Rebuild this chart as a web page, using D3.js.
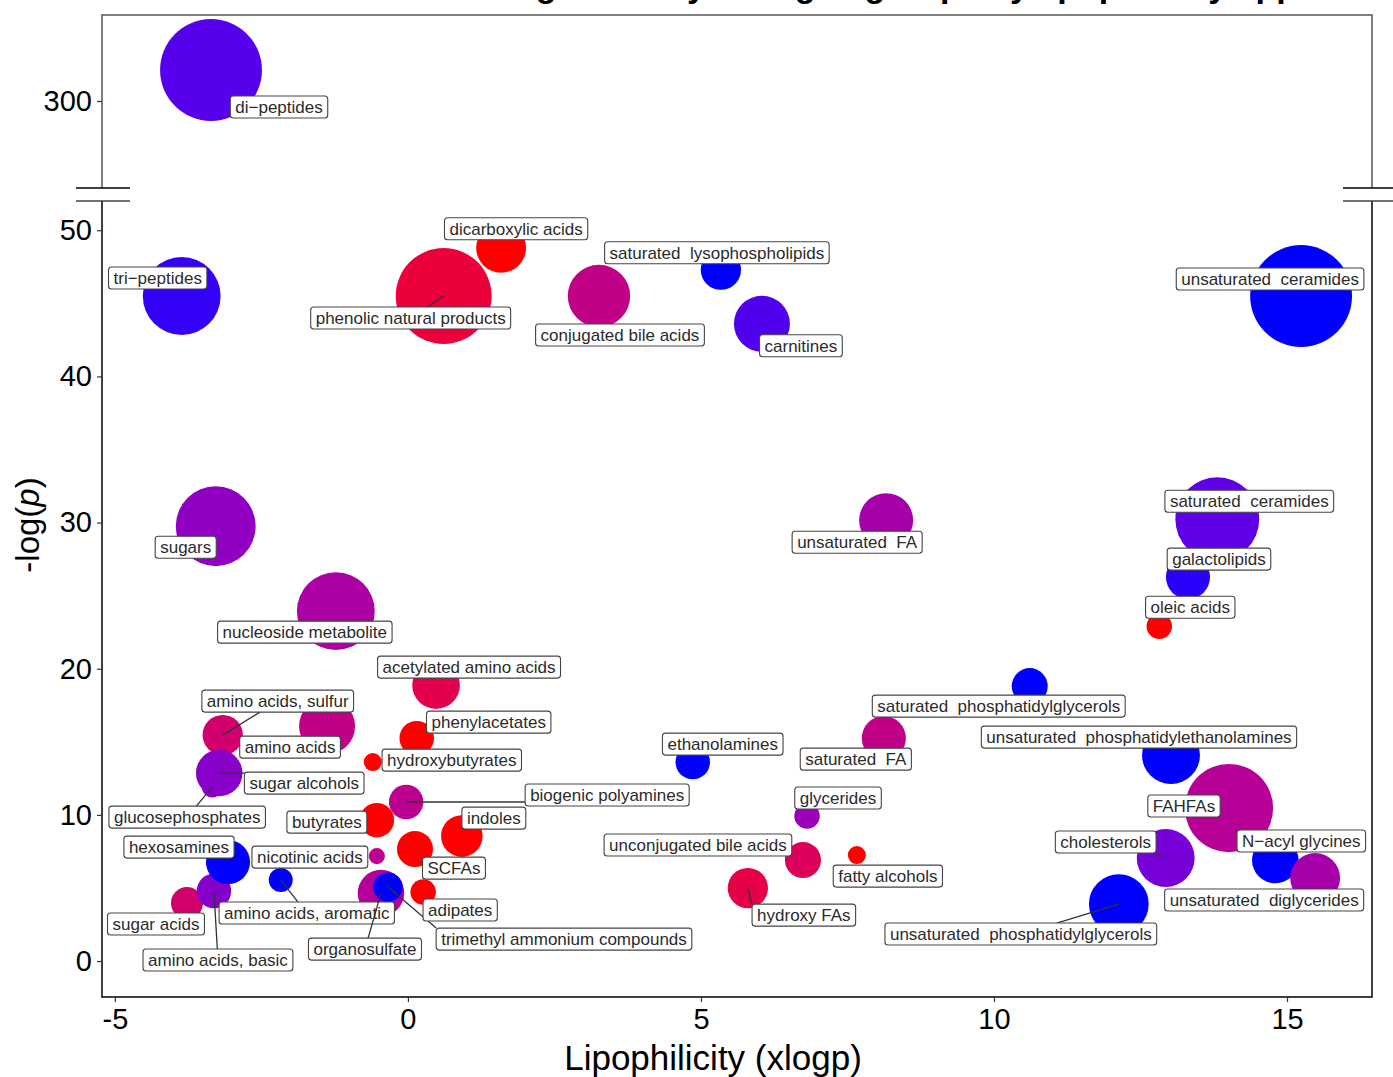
<!DOCTYPE html>
<html>
<head>
<meta charset="utf-8">
<script src="https://cdn.jsdelivr.net/npm/d3@7"></script>
<style>
  body { margin: 0; background: #fff; }
  svg { font-family: "Liberation Sans", Arial, sans-serif; }
  .lbl text { white-space: pre; }
</style>
</head>
<body>
<div id="chart"></div>
<script>
// cluster names (drawing order matters for overlaps)
const clusters = [
  "di−peptides", "tri−peptides", "dicarboxylic acids", "phenolic natural products",
  "conjugated bile acids", "saturated  lysophospholipids", "carnitines", "unsaturated  ceramides",
  "sugars", "nucleoside metabolite", "unsaturated  FA", "saturated  ceramides",
  "galactolipids", "oleic acids", "acetylated amino acids", "saturated  phosphatidylglycerols",
  "amino acids, sulfur", "amino acids", "phenylacetates", "hydroxybutyrates",
  "ethanolamines", "saturated  FA", "unsaturated  phosphatidylethanolamines", "glucosephosphates",
  "sugar alcohols", "biogenic polyamines", "FAHFAs", "glycerides",
  "butyrates", "indoles", "unconjugated bile acids", "fatty alcohols",
  "SCFAs", "nicotinic acids", "cholesterols", "N−acyl glycines",
  "sugar acids", "amino acids, basic", "hexosamines", "amino acids, aromatic",
  "hydroxy FAs", "unsaturated  diglycerides", "unsaturated  phosphatidylglycerols", "organosulfate",
  "trimethyl ammonium compounds", "adipates"
]
// lipophilicity (xlogp)
const xlogp = [
  -3.36, -3.86, 1.59, 0.61,
  3.26, 5.34, 6.04, 15.24,
  -3.28, -1.23, 8.16, 13.81,
  13.31, 12.82, 0.48, 10.61,
  -3.16, -1.38, 0.15, -0.60,
  4.86, 8.12, 13.02, -3.34,
  -3.22, -0.03, 14.01, 6.81,
  -0.53, 0.92, 6.74, 7.66,
  0.12, -0.53, 12.93, 14.80,
  -3.77, -3.31, -3.07, -2.17,
  5.80, 15.48, 12.13, -0.46,
  -0.34, 0.26
]
// -log(p)
const negLogP = [
  317.8, 45.5, 48.8, 45.5,
  45.5, 47.3, 43.6, 45.5,
  29.75, 23.94, 30.16, 30.23,
  26.27, 22.91, 18.88, 18.81,
  15.46, 16.07, 15.25, 13.61,
  13.61, 15.25, 14.09, 11.9,
  12.86, 10.88, 10.47, 9.92,
  9.64, 8.55, 6.91, 7.25,
  7.66, 7.18, 7.05, 6.91,
  3.97, 4.79, 6.77, 5.54,
  4.99, 5.68, 3.9, 4.65,
  5.06, 4.72
]
// cluster size (number of compounds)
const clusterSize = [
  96, 56, 23, 85,
  36, 15, 29, 96,
  59, 56, 27, 65,
  18, 6, 21, 12,
  15, 29, 11, 3,
  11, 18, 31, 4,
  20, 11, 72, 6,
  11, 16, 12, 3,
  12, 2.4, 31, 20,
  9.5, 11, 18, 5.3,
  15, 23, 33, 20,
  8, 6
]
// share of increased compounds (colour)
const increased = [
  0.08, 0.03, 1.0, 0.83,
  0.5, 0.0, 0.07, 0.0,
  0.25, 0.38, 0.35, 0.1,
  0.02, 1.0, 0.75, 0.0,
  0.62, 0.5, 1.0, 1.0,
  0.0, 0.5, 0.0, 0.25,
  0.22, 0.47, 0.44, 0.3,
  1.0, 1.0, 0.7, 1.0,
  1.0, 0.47, 0.16, 0.0,
  0.62, 0.21, 0.0, 0.0,
  0.78, 0.35, 0.0, 0.42,
  0.0, 1.0
]
// repelled label offsets from the point (px) and leader lines
const labelDx = [
  68, -24, 15, -33,
  21, -4, 39, -31,
  -30, -31, -29, 32,
  31, 31, 33, -31,
  55, -37, 72, 79,
  30, -28, -32, -25,
  85, 201, -45, 31,
  -50, 32, -105, 31,
  39, -67, -60, 26,
  -31, 4, -49, 26,
  56, -51, -98, -16,
  176, 37
]
const labelDy = [
  37, -18, -19, 22,
  39, -17, 22, -17,
  21, 21, 22, -18,
  -18, -19, -18, 20,
  -34, 21, -16, -2,
  -18, 21, -18, 30,
  10, -7, -2, -18,
  2, -18, -15, 21,
  19, 1, -16, -19,
  21, 69, -15, 33,
  27, 22, 30, 56,
  52, 18
]
// leaders aimed at the label centre
const leaderToCentre = [
  "phenolic natural products", "amino acids, sulfur", "glucosephosphates",
  "amino acids, aromatic", "unsaturated  phosphatidylglycerols", "organosulfate", "amino acids, basic"
]
// leaders to the nearest point of the label box
const leaderToNearest = [
  "sugar alcohols", "biogenic polyamines", "cholesterols", "hydroxy FAs", "trimethyl ammonium compounds"
]

const xTicks = [-5, 0, 5, 10, 15]
const yTicksLow = [0, 10, 20, 30, 40, 50]
const yTicksUp = [300]

const W = 1393, H = 1077
const left = 102, right = 1372
const upTop = 15, upBottom = 188, lowTop = 201, lowBottom = 997

const svg = d3.select("#chart").append("svg")
  .attr("width", W)
  .attr("height", H)

const x = d3.scaleLinear().domain([-5.22, 16.45]).range([left, right])
const yLow = d3.scaleLinear().domain([-2.46, 52.0]).range([lowBottom, lowTop])
const yUp = d3.scaleLinear().domain([250, 349.4]).range([upBottom, upTop])
const r = d3.scaleSqrt().domain([0, 100]).range([0, 52])
const colour = d3.scaleLinear().domain([0, 1]).range(["blue", "red"]).interpolate(d3.interpolateLab)

const data = clusters.map((name, i) => {
  const upper = negLogP[i] > 52
  const cx = x(xlogp[i])
  const cy = upper ? yUp(negLogP[i]) : yLow(negLogP[i])
  return {
    name, upper, cx, cy,
    size: clusterSize[i],
    inc: increased[i],
    lx: cx + labelDx[i],
    ly: cy + labelDy[i],
    leader: leaderToCentre.includes(name) ? "centre" : leaderToNearest.includes(name) ? "nearest" : null
  }
})

// title, mostly outside the page like in the original
svg.append("text")
  .attr("x", 737).attr("y", -3)
  .attr("text-anchor", "middle")
  .attr("font-size", 34).attr("font-weight", "bold")
  .text("Chemical set enrichment: significantly changed groups by lipophilicity approach")

// clip paths for the two panels
const defs = svg.append("defs")
defs.append("clipPath").attr("id", "clipUp").append("rect")
  .attr("x", left).attr("y", upTop).attr("width", right - left).attr("height", upBottom - upTop)
defs.append("clipPath").attr("id", "clipLow").append("rect")
  .attr("x", left).attr("y", lowTop).attr("width", right - left).attr("height", lowBottom - lowTop)

// upper panel frame
svg.append("path")
  .attr("d", `M${left},${upBottom}V${upTop}H${right}V${upBottom}`)
  .attr("fill", "none").attr("stroke", "#555").attr("stroke-width", 1.5)

// lower panel axes
svg.append("path")
  .attr("d", `M${left},${lowTop}V${lowBottom}H${right}V${lowTop}`)
  .attr("fill", "none").attr("stroke", "#000").attr("stroke-width", 1.5)

// break marks
const breaks = [[76, 130], [1343, 1393]]
breaks.forEach(([a, b]) => {
  svg.append("line").attr("x1", a).attr("x2", b).attr("y1", upBottom).attr("y2", upBottom)
    .attr("stroke", "#000").attr("stroke-width", 1.5)
  svg.append("line").attr("x1", a).attr("x2", b).attr("y1", lowTop).attr("y2", lowTop)
    .attr("stroke", "#444").attr("stroke-width", 1.5)
})

// axes
const axisX = svg.append("g")
  .attr("transform", `translate(0,${lowBottom})`)
  .call(d3.axisBottom(x).tickValues(xTicks).tickSize(5).tickPadding(6).tickFormat(d3.format("d")))
const axisYLow = svg.append("g")
  .attr("transform", `translate(${left},0)`)
  .call(d3.axisLeft(yLow).tickValues(yTicksLow).tickSize(5).tickPadding(5))
const axisYUp = svg.append("g")
  .attr("transform", `translate(${left},0)`)
  .call(d3.axisLeft(yUp).tickValues(yTicksUp).tickSize(5).tickPadding(5))

;[axisX, axisYLow, axisYUp].forEach(g => {
  g.select(".domain").remove()
  g.selectAll(".tick line").attr("stroke", "#333").attr("stroke-width", 1.2)
  g.selectAll(".tick text")
    .attr("font-family", "Liberation Sans, Arial, sans-serif")
    .attr("font-size", 29).attr("fill", "#000")
})
axisX.selectAll(".tick text").text(d => d < 0 ? "-" + Math.abs(d) : d)

// axis titles
svg.append("text")
  .attr("x", 713).attr("y", 1070)
  .attr("text-anchor", "middle")
  .attr("font-size", 35)
  .text("Lipophilicity (xlogp)")

const yTitle = svg.append("text")
  .attr("transform", "translate(39,525) rotate(-90)")
  .attr("text-anchor", "middle")
  .attr("font-size", 33)
yTitle.append("tspan").text("-log(")
yTitle.append("tspan").attr("font-style", "italic").text("p")
yTitle.append("tspan").text(")")

// bubbles
const gUp = svg.append("g").attr("clip-path", "url(#clipUp)")
const gLow = svg.append("g").attr("clip-path", "url(#clipLow)")

data.forEach(d => {
  (d.upper ? gUp : gLow).append("circle")
    .attr("cx", d.cx).attr("cy", d.cy)
    .attr("r", r(d.size))
    .attr("fill", colour(d.inc))
})

// labels (ggrepel style)
const gLabels = svg.append("g")
const padX = 5, boxH = 22

data.forEach(d => {
  const grp = gLabels.append("g").attr("class", "lbl")
  const seg = grp.append("line")
  const rect = grp.append("rect")
  const t = grp.append("text")
    .attr("x", d.lx).attr("y", d.ly + 6)
    .attr("text-anchor", "middle")
    .attr("font-size", 17)
    .attr("fill", "#2b2b2b")
    .text(d.name)
  const w = t.node().getComputedTextLength() + padX * 2
  const bx = d.lx - w / 2, by = d.ly - boxH / 2
  rect.attr("x", bx).attr("y", by)
    .attr("width", w).attr("height", boxH)
    .attr("rx", 3).attr("ry", 3)
    .attr("fill", "#fff")
    .attr("stroke", "#444").attr("stroke-width", 1.1)
  if (!d.leader) { seg.remove(); return }
  let ex, ey
  if (d.leader === "nearest") {
    ex = Math.max(bx, Math.min(d.cx, bx + w))
    ey = Math.max(by, Math.min(d.cy, by + boxH))
  } else {
    // from the point towards the label centre, stopping at the box edge
    const vx = d.lx - d.cx, vy = d.ly - d.cy
    const f = Math.max(
      vx !== 0 ? (Math.abs(vx) - w / 2) / Math.abs(vx) : -Infinity,
      vy !== 0 ? (Math.abs(vy) - boxH / 2) / Math.abs(vy) : -Infinity
    )
    ex = d.cx + vx * f
    ey = d.cy + vy * f
  }
  seg.attr("x1", d.cx).attr("y1", d.cy).attr("x2", ex).attr("y2", ey)
    .attr("stroke", "#333").attr("stroke-width", 1.3)
})
</script>
</body>
</html>
